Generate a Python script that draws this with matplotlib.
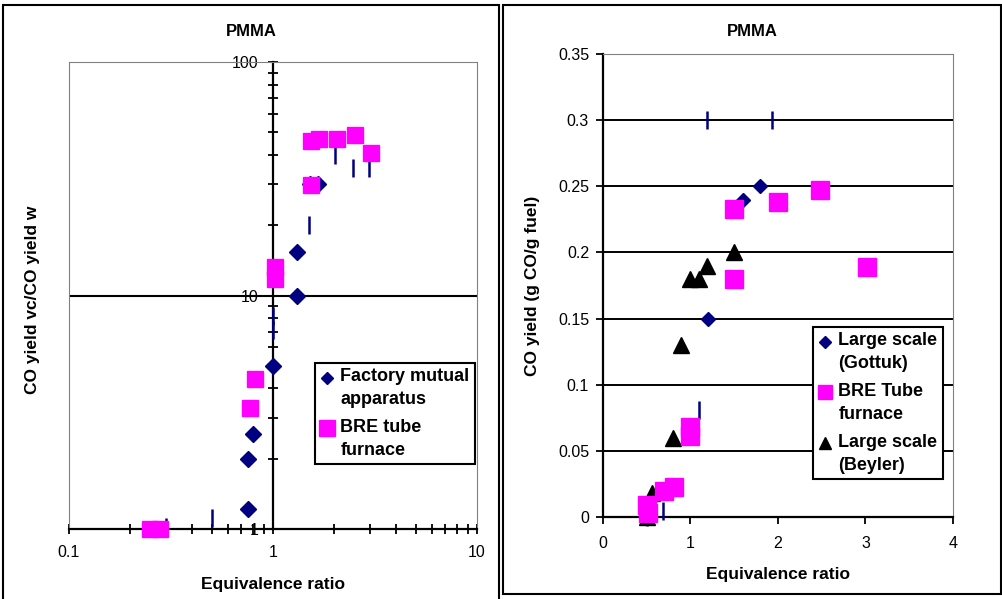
import matplotlib
matplotlib.use("Agg")
import matplotlib.pyplot as plt
from matplotlib.lines import Line2D
from matplotlib.markers import MarkerStyle
from matplotlib.patches import Rectangle
from matplotlib.ticker import LogLocator, NullFormatter
from matplotlib.transforms import Affine2D

plt.rcParams['font.family'] = ['Liberation Sans', 'DejaVu Sans']

NAVY = '#000080'
MAGENTA = '#FF00FF'
GRAY = '#808080'

# ---- left chart: ratio of CO yields (log-log) ----
fm_phi = [0.75, 0.75, 0.80, 1.0, 1.31, 1.31, 1.52, 1.66]
fm_ratio = [1.22, 2.0, 2.55, 5.0, 10.0, 15.3, 30.0, 30.0]
fm_bar_phi = [0.30, 0.50, 1.0, 1.0, 1.5, 2.01, 2.47, 2.96]
fm_bar_ratio = [1.02, 1.11, 7.1, 8.2, 20.1, 40.1, 35.0, 35.0]

bre_phi = [0.25, 0.28, 0.77, 0.82, 1.02, 1.02, 1.53, 1.53, 1.68, 2.06, 2.52, 3.02]
bre_ratio = [1.0, 1.0, 3.3, 4.4, 11.8, 13.3, 29.8, 45.9, 46.8, 46.9, 48.8, 40.8]

left_xticks = [0.1, 1, 10]
left_xlabels = ['0.1', '1', '10']
left_yticks = [1, 10, 100]
left_ylabels = ['1', '10', '100']

# ---- right chart: CO yield ----
gottuk_phi = [1.2, 1.6, 1.8]
gottuk_co = [0.15, 0.24, 0.25]
gottuk_bar_phi = [0.5, 0.69, 1.1, 1.19, 1.93]
gottuk_bar_co = [0.0, 0.0045, 0.081, 0.3, 0.3]

tube_phi = [0.5, 0.52, 0.7, 0.81, 1.0, 1.0, 1.5, 1.5, 2.0, 2.48, 3.02]
tube_co = [0.009, 0.003, 0.0197, 0.0227, 0.061, 0.068, 0.18, 0.233, 0.238, 0.247, 0.189]

beyler_phi = [0.5, 0.56, 0.8, 0.89, 1.0, 1.1, 1.19, 1.5]
beyler_co = [0.0, 0.018, 0.06, 0.13, 0.18, 0.18, 0.19, 0.2]

right_xticks = [0, 1, 2, 3, 4]
right_xlabels = ['0', '1', '2', '3', '4']
right_yticks = [0, 0.05, 0.1, 0.15, 0.2, 0.25, 0.3, 0.35]
right_ylabels = ['0', '0.05', '0.1', '0.15', '0.2', '0.25', '0.3', '0.35']

W, H = 1003, 599
TICK_FS = 11.5
LABEL_FS = 12.5
LEG_FS = 13
fig = plt.figure(figsize=(W / 100, H / 100), dpi=100)


def rect(x0, y0, x1, y1):
    # pixel box -> figure fraction [left, bottom, width, height]
    return [x0 / W, 1 - y1 / H, (x1 - x0) / W, (y1 - y0) / H]


def leg_marker(shape, ms, color):
    # legend key sitting on the first line of a two-line label (Excel style)
    lift = 8.0 / ms
    m = MarkerStyle(shape, transform=Affine2D().translate(0, lift))
    return Line2D([], [], ls='none', marker=m, ms=ms, color=color)


# chart area borders
for box in [(3, 5, 499, 602), (503, 5, 1001, 594)]:
    l, b, w, h = rect(*box)
    fig.patches.append(Rectangle((l, b), w, h, transform=fig.transFigure,
                                 fill=False, edgecolor='black', lw=1.5))

fig.text(251 / W, 1 - 31 / H, 'PMMA', ha='center', va='center',
         fontsize=12, fontweight='bold')
fig.text(752 / W, 1 - 31 / H, 'PMMA', ha='center', va='center',
         fontsize=12, fontweight='bold')

# ================= left =================
ax1 = fig.add_axes(rect(69, 62, 477, 529))
ax1.set_xscale('log')
ax1.set_yscale('log')
ax1.set_xlim(0.1, 10)
ax1.set_ylim(1, 100)

ax1.spines['left'].set_position(('data', 1))
for s in ['left', 'bottom']:
    ax1.spines[s].set_linewidth(1.6)
for s in ['top', 'right']:
    ax1.spines[s].set_color(GRAY)
    ax1.spines[s].set_linewidth(0.8)
ax1.axvline(0.1, color=GRAY, lw=0.8, clip_on=False)
for v in left_yticks[1:-1]:
    ax1.axhline(v, color='black', lw=1.5, zorder=1)

ax1.set_xticks(left_xticks)
ax1.set_xticklabels(left_xlabels)
ax1.set_yticks(left_yticks)
ax1.set_yticklabels(left_ylabels)
ax1.xaxis.set_minor_locator(LogLocator(base=10, subs=range(2, 10)))
ax1.yaxis.set_minor_locator(LogLocator(base=10, subs=range(2, 10)))
ax1.xaxis.set_minor_formatter(NullFormatter())
ax1.yaxis.set_minor_formatter(NullFormatter())
ax1.tick_params(which='both', direction='inout', length=7, width=1.3,
                labelsize=TICK_FS)
ax1.tick_params(axis='x', which='both', pad=8)
ax1.tick_params(axis='y', which='both', pad=7)

ax1.plot(fm_bar_phi, fm_bar_ratio, ls='none', marker='|', ms=13, mew=1.8,
         color=NAVY, clip_on=False, zorder=4)
ax1.plot(fm_phi, fm_ratio, ls='none', marker='D', ms=8.2, color=NAVY,
         clip_on=False, zorder=5)
ax1.plot(bre_phi, bre_ratio, ls='none', marker='s', ms=11.5, color=MAGENTA,
         clip_on=False, zorder=6)

ax1.set_xlabel('Equivalence ratio', fontsize=LABEL_FS, fontweight='bold')
ax1.xaxis.set_label_coords(0.5, (529 - 584) / 467)
ax1.xaxis.label.set_verticalalignment('center')
ax1.set_ylabel('CO yield vc/CO yield w', fontsize=LABEL_FS, fontweight='bold')
ax1.yaxis.set_label_coords((33 - 69) / 408, 0.49)
ax1.yaxis.label.set_verticalalignment('center')

h1 = [leg_marker('D', 6, NAVY), leg_marker('s', 11, MAGENTA)]
leg1 = ax1.legend(h1, ['Factory mutual\napparatus', 'BRE tube\nfurnace'],
                  loc='upper left', bbox_to_anchor=(315 / W, 1 - 363 / H),
                  bbox_transform=fig.transFigure, fancybox=False,
                  edgecolor='black', framealpha=1, handlelength=0.7,
                  handletextpad=0.4, borderpad=0.3, labelspacing=0.6,
                  borderaxespad=0, prop={'size': LEG_FS, 'weight': 'bold'})
leg1.get_frame().set_linewidth(1.5)
for t in leg1.get_texts():
    t.set_linespacing(1.45)

# ================= right =================
ax2 = fig.add_axes(rect(603, 54, 953, 517))
ax2.set_xlim(0, 4)
ax2.set_ylim(0, 0.35)
for s in ['left', 'bottom']:
    ax2.spines[s].set_linewidth(1.6)
for s in ['top', 'right']:
    ax2.spines[s].set_color(GRAY)
    ax2.spines[s].set_linewidth(0.8)
for v in right_yticks[1:-1]:
    ax2.axhline(v, color='black', lw=1.4, zorder=1)

ax2.set_xticks(right_xticks)
ax2.set_xticklabels(right_xlabels)
ax2.set_yticks(right_yticks)
ax2.set_yticklabels(right_ylabels)
ax2.tick_params(direction='out', length=5, width=1.3, labelsize=TICK_FS)
ax2.tick_params(axis='x', pad=9)
ax2.tick_params(axis='y', pad=5)

ax2.plot(gottuk_bar_phi, gottuk_bar_co, ls='none', marker='|', ms=12.5, mew=1.8,
         color=NAVY, clip_on=False, zorder=4)
ax2.plot(gottuk_phi, gottuk_co, ls='none', marker='D', ms=7.5, color=NAVY,
         clip_on=False, zorder=5)
ax2.plot(beyler_phi, beyler_co, ls='none', marker='^', ms=12, color='black',
         clip_on=False, zorder=5)
ax2.plot(tube_phi, tube_co, ls='none', marker='s', ms=13, color=MAGENTA,
         clip_on=False, zorder=6)

ax2.set_xlabel('Equivalence ratio', fontsize=LABEL_FS, fontweight='bold')
ax2.xaxis.set_label_coords(0.5, (517 - 574) / 463)
ax2.xaxis.label.set_verticalalignment('center')
ax2.set_ylabel('CO yield (g CO/g fuel)', fontsize=LABEL_FS, fontweight='bold')
ax2.yaxis.set_label_coords((533 - 603) / 350, 0.5)
ax2.yaxis.label.set_verticalalignment('center')

h2 = [leg_marker('D', 6.5, NAVY), leg_marker('s', 10, MAGENTA),
      leg_marker('^', 9, 'black')]
leg2 = ax2.legend(h2, ['Large scale\n(Gottuk)', 'BRE Tube\nfurnace',
                       'Large scale\n(Beyler)'],
                  loc='upper left', bbox_to_anchor=(813 / W, 1 - 327 / H),
                  bbox_transform=fig.transFigure, fancybox=False,
                  edgecolor='black', framealpha=1, handlelength=0.7,
                  handletextpad=0.4, borderpad=0.3, labelspacing=0.6,
                  borderaxespad=0, prop={'size': LEG_FS, 'weight': 'bold'})
leg2.get_frame().set_linewidth(1.5)
for t in leg2.get_texts():
    t.set_linespacing(1.45)

fig.savefig('out.png', dpi=100)
